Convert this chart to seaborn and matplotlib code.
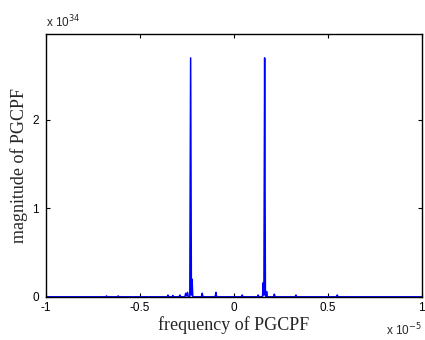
import matplotlib
matplotlib.use("Agg")
import matplotlib.pyplot as plt
import seaborn as sns
import pandas as pd

# spectrum samples (frequency in units of 1e-5, magnitude in units of 1e34)
freq = [-1.0, -0.681, -0.677, -0.673, -0.619, -0.615, -0.611,
        -0.354, -0.350, -0.346, -0.328, -0.324, -0.320, -0.291, -0.287, -0.283,
        -0.260, -0.256, -0.251, -0.246, -0.242, -0.234, -0.2295, -0.2255, -0.222, -0.218,
        -0.172, -0.168, -0.164, -0.099, -0.095, -0.091,
        0.041, 0.045, 0.049, 0.126, 0.130, 0.134,
        0.153, 0.157, 0.1605, 0.1645, 0.1685, 0.172, 0.175, 0.179,
        0.212, 0.216, 0.220, 0.327, 0.331, 0.335, 0.547, 0.551, 0.555, 1.0]
mag = [0.0, 0.0, 0.01, 0.0, 0.0, 0.01, 0.0,
       0.0, 0.02, 0.0, 0.0, 0.015, 0.0, 0.0, 0.02, 0.0,
       0.0, 0.04, 0.01, 0.05, 0.0, 0.0, 2.70, 0.02, 0.20, 0.0,
       0.0, 0.04, 0.0, 0.0, 0.05, 0.0,
       0.0, 0.02, 0.0, 0.0, 0.02, 0.0,
       0.0, 0.16, 0.02, 2.70, 0.02, 0.0, 0.06, 0.0,
       0.0, 0.03, 0.0, 0.0, 0.02, 0.0, 0.0, 0.02, 0.0, 0.0]

x_ticks = [-1, -0.5, 0, 0.5, 1]
x_labels = ["-1", "-0.5", "0", "0.5", "1"]
y_ticks = [0, 1, 2]
y_labels = ["0", "1", "2"]

df = pd.DataFrame({"freq": freq, "mag": mag})

sns.set_style("ticks")
plt.rcParams["font.family"] = ["Liberation Sans", "DejaVu Sans"]
plt.rcParams["xtick.direction"] = "in"
plt.rcParams["ytick.direction"] = "in"

fig = plt.figure(figsize=(4.25, 3.4), dpi=100)
ax = fig.add_axes([0.108, 0.127, 0.884, 0.773])

sns.lineplot(data=df, x="freq", y="mag", color="#0000ff", linewidth=1.1,
             estimator=None, ax=ax)

ax.set_xlim(-1, 1)
ax.set_ylim(0, 2.97)
ax.set_xticks(x_ticks)
ax.set_xticklabels(x_labels)
ax.set_yticks(y_ticks)
ax.set_yticklabels(y_labels)
ax.tick_params(top=True, right=True, length=3, width=0.8, labelsize=8.5,
               colors="black")
ax.tick_params(axis="x", pad=4)
ax.tick_params(axis="y", pad=5)
for s in ax.spines.values():
    s.set_visible(True)
    s.set_linewidth(1.0)
    s.set_color("black")

serif = ["Liberation Serif", "DejaVu Serif"]
ax.set_xlabel("frequency of PGCPF", family=serif, fontsize=13, labelpad=1)
ax.set_ylabel("magnitude of PGCPF", family=serif, fontsize=13, labelpad=3)

# exponent labels as in the original figure
fig.text(0.108, 0.91, r"x 10$^{34}$", fontsize=8.5, ha="left", va="bottom")
fig.text(0.992, 0.005, r"x 10$^{-5}$", fontsize=8.5, ha="right", va="bottom")

fig.savefig("out.png", dpi=100)
